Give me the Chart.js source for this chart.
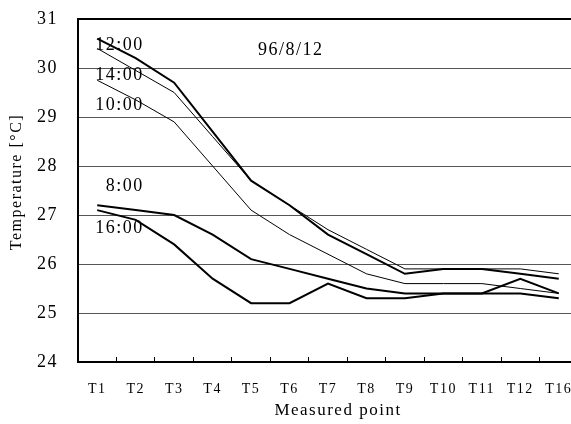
<!DOCTYPE html>
<html lang="en">
  <head>
    <meta charset="UTF-8" />
    <title>Temperature by measured point</title>
    <script src="https://cdn.jsdelivr.net/npm/chart.js"></script>
    <style>
      html, body { margin: 0; padding: 0; background: #fff; overflow: hidden; }
      #chart { display: block; }
    </style>
  </head>
  <body>
    <canvas id="chart" width="578" height="424"></canvas>

    <script>
      // measured points along the x axis
      const points = ['T1', 'T2', 'T3', 'T4', 'T5', 'T6', 'T7', 'T8', 'T9', 'T10', 'T11', 'T12', 'T16'];

      // temperature [°C] per time of day
      const temp0800 = [27.2, 27.1, 27.0, 26.6, 26.1, 25.9, 25.7, 25.5, 25.4, 25.4, 25.4, 25.4, 25.3];
      const temp1000 = [29.75, 29.35, 28.9, 28.0, 27.1, 26.6, 26.2, 25.8, 25.6, 25.6, 25.6, 25.5, 25.4];
      const temp1200 = [30.6, 30.2, 29.7, 28.7, 27.7, 27.2, 26.6, 26.2, 25.8, 25.9, 25.9, 25.8, 25.7];
      const temp1400 = [30.4, 29.95, 29.5, 28.6, 27.7, 27.2, 26.7, 26.3, 25.9, 25.9, 25.9, 25.9, 25.8];
      const temp1600 = [27.1, 26.9, 26.4, 25.7, 25.2, 25.2, 25.6, 25.3, 25.3, 25.4, 25.4, 25.7, 25.4];

      const yTicks = [24, 25, 26, 27, 28, 29, 30, 31];

      const serif = 'Liberation Serif';

      // text written inside the plot (x = category index, y = temperature)
      const notes = [
        { text: '12:00', x: -0.05, y: 30.47 },
        { text: '14:00', x: -0.05, y: 29.86 },
        { text: '10:00', x: -0.05, y: 29.24 },
        { text: '8:00', x: 0.22, y: 27.59 },
        { text: '16:00', x: -0.05, y: 26.73 },
        { text: '96/8/12', x: 4.18, y: 30.37 }
      ];

      // spaced-out lettering like the original figure
      const spacing = {
        id: 'spacing',
        beforeDraw(chart) {
          chart.ctx.letterSpacing = '1.5px';
        }
      };

      // notes inside the plot plus the two axis titles
      const textLabels = {
        id: 'textLabels',
        afterDraw(chart) {
          const { ctx, scales, chartArea } = chart;
          ctx.save();
          ctx.fillStyle = '#000';
          ctx.textBaseline = 'middle';

          ctx.font = `18px "${serif}"`;
          ctx.textAlign = 'left';
          notes.forEach(n => {
            ctx.fillText(n.text, scales.x.getPixelForValue(n.x), scales.y.getPixelForValue(n.y));
          });

          ctx.textAlign = 'center';
          ctx.font = `17px "${serif}"`;
          ctx.fillText('Measured point', chartArea.left + 260, chartArea.bottom + 49);

          ctx.font = `16px "${serif}"`;
          ctx.translate(chartArea.left - 61, chartArea.top + 163);
          ctx.rotate(-Math.PI / 2);
          ctx.fillText('Temperature [°C]', 0, 0);
          ctx.restore();
        }
      };

      function line(label, data, width) {
        return {
          label: label,
          data: data,
          borderColor: '#000',
          backgroundColor: 'transparent',
          borderWidth: width,
          pointRadius: 0,
          tension: 0
        };
      }

      new Chart(document.getElementById('chart'), {
        type: 'line',
        data: {
          labels: points,
          datasets: [
            line('8:00', temp0800, 2),
            line('10:00', temp1000, 1),
            line('12:00', temp1200, 2),
            line('14:00', temp1400, 1),
            line('16:00', temp1600, 2)
          ]
        },
        options: {
          responsive: false,
          animation: false,
          layout: { padding: { top: 19, right: 0, bottom: 0, left: 0 } },
          plugins: {
            legend: { display: false },
            tooltip: { enabled: false }
          },
          scales: {
            x: {
              offset: true,
              afterFit(scale) {
                scale.height = 62;
                scale.paddingLeft = 0;
                scale.paddingRight = 0;
              },
              grid: {
                offset: true,
                drawOnChartArea: false,
                drawTicks: true,
                tickLength: -5,
                color: '#000',
                lineWidth: 1
              },
              border: { display: true, color: '#000', width: 2 },
              ticks: {
                color: '#000',
                padding: 24,
                maxRotation: 0,
                autoSkip: false,
                font: { family: serif, size: 14 }
              }
            },
            y: {
              min: yTicks[0],
              max: yTicks[yTicks.length - 1],
              afterFit(scale) {
                scale.width = 78;
                scale.paddingTop = 0;
                scale.paddingBottom = 0;
              },
              afterBuildTicks(scale) {
                scale.ticks = yTicks.map(v => ({ value: v }));
              },
              grid: {
                drawTicks: false,
                color: ctx => ctx.tick && ctx.tick.value === 31 ? '#000' : '#555',
                lineWidth: ctx => ctx.tick && ctx.tick.value === 31 ? 2 : 1
              },
              border: { display: true, color: '#000', width: 2 },
              ticks: {
                color: '#000',
                padding: 20,
                font: { family: serif, size: 18 }
              }
            }
          }
        },
        plugins: [spacing, textLabels]
      });
    </script>
  </body>
</html>
